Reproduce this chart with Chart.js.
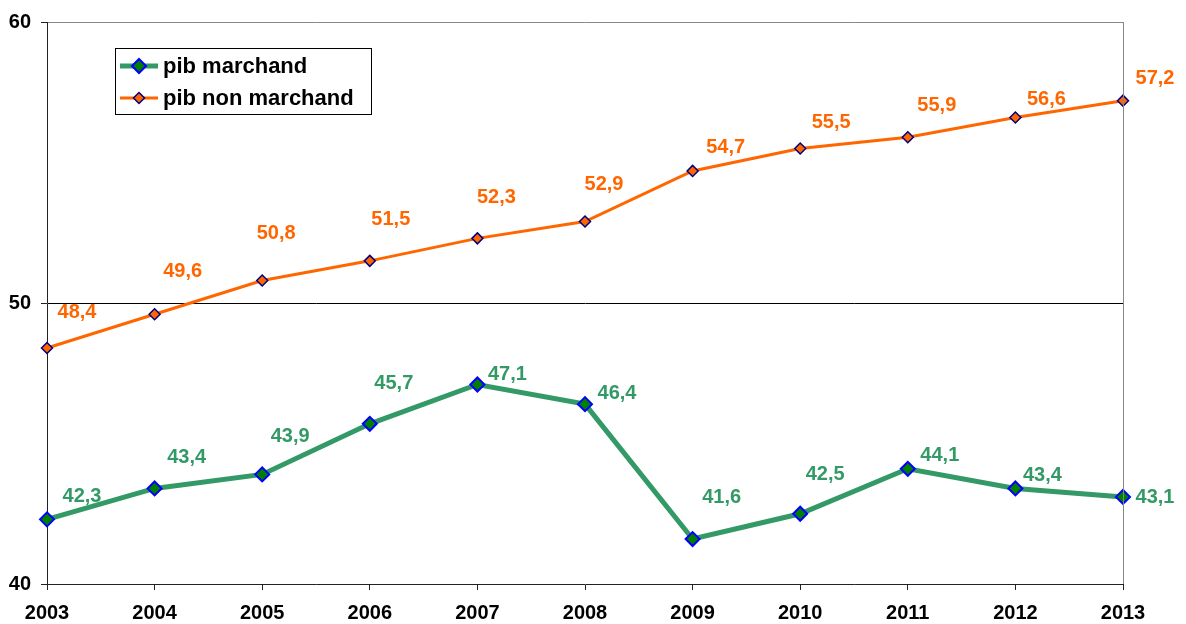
<!DOCTYPE html>
<html>
<head>
<meta charset="utf-8">
<script src="https://cdn.jsdelivr.net/npm/chart.js@4/dist/chart.umd.min.js"></script>
<style>
  body { margin: 0; background: #fff; }
  canvas { display: block; }
</style>
</head>
<body>
<canvas id="pibChart" width="1186" height="624"></canvas>
<script>
// données
const years = ['2003', '2004', '2005', '2006', '2007', '2008', '2009', '2010', '2011', '2012', '2013'];
const pibMarchand = [42.3, 43.4, 43.9, 45.7, 47.1, 46.4, 41.6, 42.5, 44.1, 43.4, 43.1];
const pibNonMarchand = [48.4, 49.6, 50.8, 51.5, 52.3, 52.9, 54.7, 55.5, 55.9, 56.6, 57.2];
const yTicks = [40, 50, 60];

const FONT = 'Arial, "Liberation Sans", sans-serif';
const GREEN = '#339966';
const ORANGE = '#FF6600';

// décalage des étiquettes (comme placées à la main dans Excel)
const labelShift = [
  [[35, -24], [32, -32], [28, -39], [24, -41], [30, -11], [32, -12], [29, -43], [25, -40], [32, -14], [27, -14], [32, 0]],
  [[30, -36], [28, -44], [14, -48], [21, -42], [19, -42], [19, -38], [33, -24], [31, -27], [29, -33], [31, -19], [32, -23]]
];

// étiquettes de valeurs, cadre et légende
const decor = {
  id: 'decor',
  afterDatasetsDraw(chart) {
    const ctx = chart.ctx;
    const area = chart.chartArea;
    ctx.save();
    // bord droit gris
    ctx.strokeStyle = '#888';
    ctx.lineWidth = 1;
    ctx.beginPath();
    ctx.moveTo(Math.round(area.right) + 0.5, area.top);
    ctx.lineTo(Math.round(area.right) + 0.5, area.bottom);
    ctx.stroke();

    // valeurs
    ctx.font = 'bold 20px ' + FONT;
    ctx.textAlign = 'center';
    ctx.textBaseline = 'middle';
    chart.data.datasets.forEach((ds, i) => {
      const meta = chart.getDatasetMeta(i);
      meta.data.forEach((pt, j) => {
        const s = labelShift[i][j];
        ctx.fillStyle = ds.borderColor;
        ctx.fillText(ds.data[j].toFixed(1).replace('.', ','), pt.x + s[0], pt.y + s[1] + 1);
      });
    });

    // légende
    const lx = 115, ly = 48, lw = 256, lh = 66;
    ctx.fillStyle = '#fff';
    ctx.fillRect(lx, ly, lw, lh);
    ctx.strokeStyle = '#000';
    ctx.lineWidth = 1;
    ctx.strokeRect(lx + 0.5, ly + 0.5, lw, lh);
    const rows = [66, 98];
    chart.data.datasets.forEach((ds, i) => {
      const y = rows[i];
      ctx.strokeStyle = ds.borderColor;
      ctx.lineWidth = ds.borderWidth;
      ctx.beginPath();
      ctx.moveTo(120, y);
      ctx.lineTo(158, y);
      ctx.stroke();
      // losange
      const r = ds.pointRadius;
      ctx.fillStyle = ds.pointBackgroundColor;
      ctx.strokeStyle = ds.pointBorderColor;
      ctx.lineWidth = ds.pointBorderWidth;
      ctx.beginPath();
      ctx.moveTo(139, y - r);
      ctx.lineTo(139 + r, y);
      ctx.lineTo(139, y + r);
      ctx.lineTo(139 - r, y);
      ctx.closePath();
      ctx.fill();
      ctx.stroke();
      ctx.fillStyle = '#000';
      ctx.textAlign = 'left';
      ctx.font = 'bold 22px ' + FONT;
      ctx.fillText(ds.label, 163, y + 1);
    });
    ctx.restore();
  }
};

new Chart(document.getElementById('pibChart'), {
  type: 'line',
  data: {
    labels: years,
    datasets: [{
      label: 'pib marchand',
      data: pibMarchand,
      borderColor: GREEN,
      borderWidth: 5,
      pointStyle: 'rectRot',
      pointRadius: 7,
      pointBackgroundColor: '#008000',
      pointBorderColor: '#0000FF',
      pointBorderWidth: 2,
      tension: 0,
      clip: false
    }, {
      label: 'pib non marchand',
      data: pibNonMarchand,
      borderColor: ORANGE,
      borderWidth: 3,
      pointStyle: 'rectRot',
      pointRadius: 5.5,
      pointBackgroundColor: ORANGE,
      pointBorderColor: '#000080',
      pointBorderWidth: 1.5,
      tension: 0,
      clip: false
    }]
  },
  options: {
    responsive: false,
    animation: false,
    layout: { padding: { top: 20, right: 63, left: 0, bottom: 0 } },
    plugins: {
      legend: { display: false },
      tooltip: { enabled: false }
    },
    scales: {
      x: {
        offset: false,
        afterFit: scale => { scale.height = 40; },
        border: { color: '#222', width: 1 },
        grid: { drawOnChartArea: false, drawTicks: true, tickLength: 6, tickColor: '#222' },
        ticks: {
          color: '#000',
          padding: 11,
          maxRotation: 0,
          font: { family: FONT, size: 20, weight: 'bold' }
        }
      },
      y: {
        min: yTicks[0],
        max: yTicks[yTicks.length - 1],
        afterFit: scale => { scale.width = 47; },
        afterBuildTicks: scale => { scale.ticks = yTicks.map(v => ({ value: v })); },
        border: { color: '#222', width: 1 },
        grid: {
          color: c => c.tick && c.tick.value === 50 ? '#000' : (c.tick && c.tick.value === 60 ? '#888' : 'rgba(0,0,0,0)'),
          tickColor: '#222',
          tickLength: 6
        },
        ticks: {
          color: '#000',
          padding: 10,
          font: { family: FONT, size: 20, weight: 'bold' }
        }
      }
    }
  },
  plugins: [decor]
});
</script>
</body>
</html>
